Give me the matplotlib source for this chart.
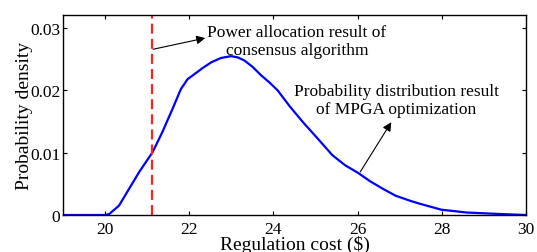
import numpy as np
import matplotlib
matplotlib.use("Agg")
import matplotlib.pyplot as plt

# regulation cost ($) and probability density
cost = [19.0, 20.0, 20.10, 20.33, 20.57, 20.81, 21.13, 21.36, 21.60, 21.80, 21.96,
        22.12, 22.32, 22.52, 22.75, 22.99, 23.15, 23.31, 23.50, 23.71, 23.90, 24.10,
        24.38, 24.70, 25.02, 25.40, 25.70, 26.00, 26.30, 26.60, 26.90, 27.24, 27.48,
        27.99, 28.59, 29.38, 30.0]
density = [0.0, 0.0, 0.00016, 0.0015, 0.0042, 0.0069, 0.0101, 0.0133, 0.0170, 0.0202,
           0.0218, 0.0226, 0.0236, 0.0245, 0.0252, 0.0255, 0.0253, 0.0248, 0.0238,
           0.0224, 0.0213, 0.0200, 0.0175, 0.0149, 0.0125, 0.0096, 0.0080, 0.0068,
           0.0054, 0.0042, 0.0031, 0.0023, 0.0018, 0.00085, 0.0004, 0.00016, 0.0]
consensus_cost = 21.12

xticks = [20, 22, 24, 26, 28, 30]
yticks = [0, 0.01, 0.02, 0.03]
ytick_labels = ["0", "0.01", "0.02", "0.03"]

plt.rcParams['font.family'] = ['Liberation Serif', 'DejaVu Serif']

fig = plt.figure(figsize=(5.37, 2.53), dpi=100)
ax = fig.add_axes([63/537, 1 - 216/253, 463/537, 200/253])

ax.plot(cost, density, color='#0000ff', lw=1.6)
ax.axvline(consensus_cost, color='#ff2020', lw=1.6, ls=(0, (4.5, 2.3)))

ax.set_xlim(19, 30)
ax.set_ylim(0, 0.0321)
ax.set_xticks(xticks)
ax.set_yticks(yticks)
ax.set_yticklabels(ytick_labels)
ax.tick_params(direction='in', top=True, right=True, length=3, width=0.8,
               labelsize=12.5)
ax.tick_params(axis='y', pad=2)
ax.tick_params(axis='x', pad=4)
for s in ax.spines.values():
    s.set_linewidth(1.0)

ax.set_xlabel("Regulation cost ($)", fontsize=14, labelpad=-1)
ax.set_ylabel("Probability density", fontsize=14, labelpad=-2)

arrow = dict(arrowstyle='-|>', color='black', lw=0.8, mutation_scale=13,
             shrinkA=0, shrinkB=0)

ax.text(24.56, 0.0279, "Power allocation result of\nconsensus algorithm",
        ha='center', va='center', fontsize=12.5, linespacing=1.15)
ax.annotate("", xy=(22.38, 0.0284), xytext=(21.14, 0.0266), arrowprops=arrow)

ax.text(26.92, 0.01846, "Probability distribution result\nof MPGA optimization",
        ha='center', va='center', fontsize=12.5, linespacing=1.15)
ax.annotate("", xy=(26.80, 0.0149), xytext=(26.06, 0.0069), arrowprops=arrow)

fig.savefig("out.png", dpi=100)
